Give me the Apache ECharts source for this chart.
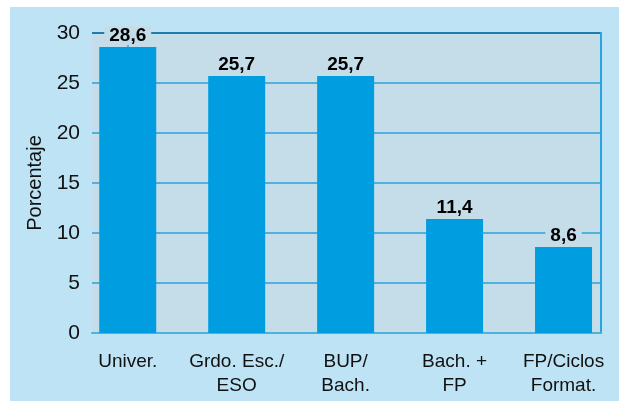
<!DOCTYPE html>
<html>
<head>
<meta charset="utf-8">
<script src="https://cdn.jsdelivr.net/npm/echarts@6/dist/echarts.min.js"></script>
<style>
html,body{margin:0;padding:0;background:#fff;}
#c{width:619px;height:401px;}
</style>
</head>
<body>
<div id="c"></div>
<script>
const categories = ['Univer.', 'Grdo. Esc./\nESO', 'BUP/\nBach.', 'Bach. +\nFP', 'FP/Ciclos\nFormat.'];
const values = [28.6, 25.7, 25.7, 11.4, 8.6];
const yTicks = [0, 5, 10, 15, 20, 25, 30];

const FONT = '"Liberation Sans", Arial, sans-serif';
const chart = echarts.init(document.getElementById('c'), null, {renderer: 'canvas'});
const gridCol = '#4fb1de';
const topCol = '#1d7eae';
const plotBg = '#c5dde9';

chart.setOption({
  animation: false,
  backgroundColor: '#ffffff',
  graphic: [{
    type: 'rect', z: -10, silent: true,
    shape: {x: 10, y: 7, width: 620, height: 400},
    style: {fill: '#bde3f5'}
  }],
  grid: {
    left: 92, right: 18, top: 33, bottom: 68,
    show: true, backgroundColor: plotBg, borderWidth: 0
  },
  xAxis: {
    type: 'value',
    min: -0.328, max: 4.344,
    splitLine: {show: false},
    axisLine: {show: true, lineStyle: {color: gridCol, width: 2}},
    axisTick: {show: false},
    axisLabel: {
      customValues: [0, 1, 2, 3, 4],
      formatter: v => categories[Math.round(v)],
      color: '#111', fontFamily: FONT, fontSize: 19, lineHeight: 24, margin: 17
    }
  },
  yAxis: [{
    type: 'value', min: 0, max: 30, interval: 5,
    name: 'Porcentaje', nameLocation: 'middle', nameGap: 38,
    nameTextStyle: {color: '#111', fontFamily: FONT, fontSize: 20},
    axisLine: {show: true, lineStyle: {color: '#38a6dc', width: 1.5}},
    axisTick: {show: true, length: 5, lineStyle: {color: gridCol, width: 1.5}},
    axisLabel: {
      formatter: v => yTicks.includes(v) ? String(v) : '',
      color: '#111', fontFamily: FONT, fontSize: 21, margin: 12
    },
    splitLine: {show: true, lineStyle: {
      color: yTicks.map((t, i) => i === yTicks.length - 1 ? topCol : gridCol),
      width: 1.8
    }}
  }, {
    type: 'value', min: 0, max: 30, position: 'right',
    axisLine: {show: true, lineStyle: {color: '#25a8e2', width: 2}},
    axisTick: {show: false}, axisLabel: {show: false}, splitLine: {show: false}
  }],
  series: [{
    type: 'bar', z: 3,
    barWidth: 57,
    data: values.map((v, i) => [i, v]),
    itemStyle: {color: '#009ee0'},
    label: {
      show: true, position: 'top', distance: 2,
      formatter: p => String(p.value[1]).replace('.', ','),
      color: '#000', fontFamily: FONT, fontSize: 19, fontWeight: 'bold',
      backgroundColor: plotBg, padding: [0, 5]
    }
  }]
});
</script>
</body>
</html>
